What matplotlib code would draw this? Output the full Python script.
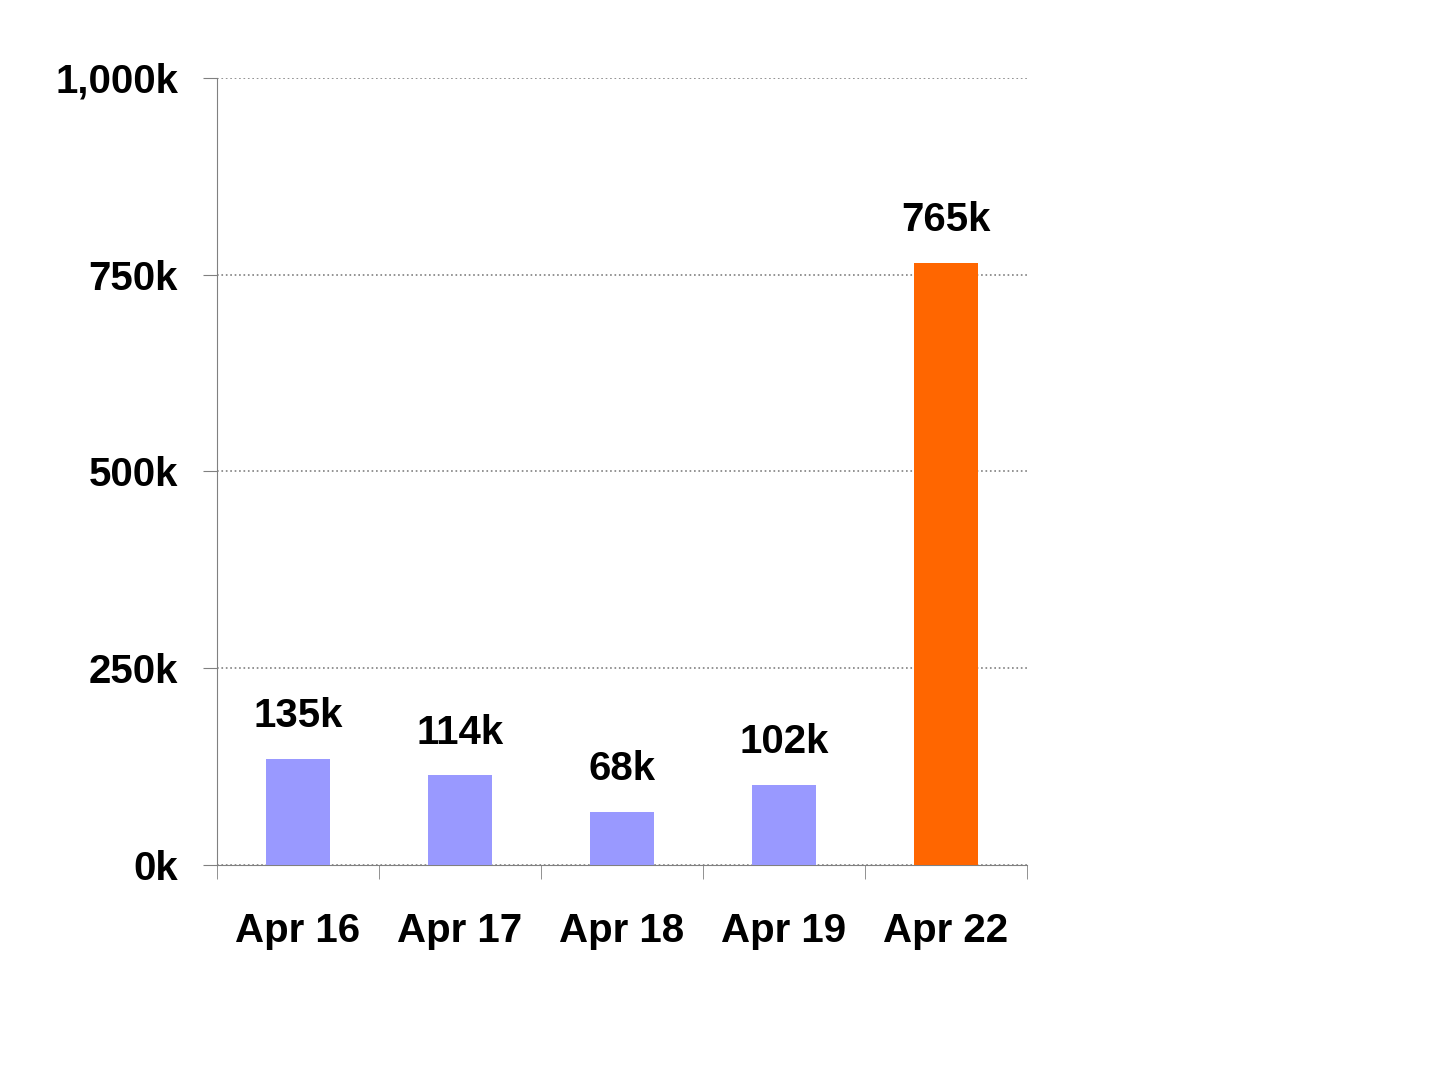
import matplotlib
matplotlib.use("Agg")
import matplotlib.pyplot as plt
from matplotlib.ticker import FixedLocator

categories = ["Apr 16", "Apr 17", "Apr 18", "Apr 19", "Apr 22"]
values = [135, 114, 68, 102, 765]
labels = ["135k", "114k", "68k", "102k", "765k"]
colors = ["#9999FF", "#9999FF", "#9999FF", "#9999FF", "#FF6600"]
yticks = [0, 250, 500, 750, 1000]
ytick_labels = ["0k", "250k", "500k", "750k", "1,000k"]

plt.rcParams['font.family'] = ['Liberation Sans', 'DejaVu Sans']
fig = plt.figure(figsize=(14.4, 10.8), dpi=100)
ax = fig.add_axes([0.1507, 0.199, 0.5625, 0.729])
x = list(range(len(categories)))
ax.bar(x, values, width=0.4, color=colors, zorder=3)
for xi, v, l in zip(x, values, labels):
    ax.text(xi, v + 30, l, ha="center", va="bottom", fontsize=29, fontweight="bold")
ax.set_xlim(-0.5, 4.5)
ax.set_ylim(0, 1000)
ax.set_yticks(yticks)
ax.set_yticklabels(ytick_labels, fontsize=29, fontweight="bold")
ax.set_xticks(x)
ax.set_xticklabels(categories, fontsize=29, fontweight="bold")
ax.xaxis.set_minor_locator(FixedLocator([-0.5, 0.5, 1.5, 2.5, 3.5, 4.5]))
ax.tick_params(axis="x", which="major", length=0, pad=34)
ax.tick_params(axis="x", which="minor", length=10, color="#808080")
ax.tick_params(axis="y", length=10, color="#808080", pad=18)
ax.grid(axis="y", linestyle=":", color="#808080", linewidth=1.2, zorder=0)
for s in ["top", "right"]:
    ax.spines[s].set_visible(False)
for s in ["left", "bottom"]:
    ax.spines[s].set_color("#808080")
fig.savefig("out.png", dpi=100)
